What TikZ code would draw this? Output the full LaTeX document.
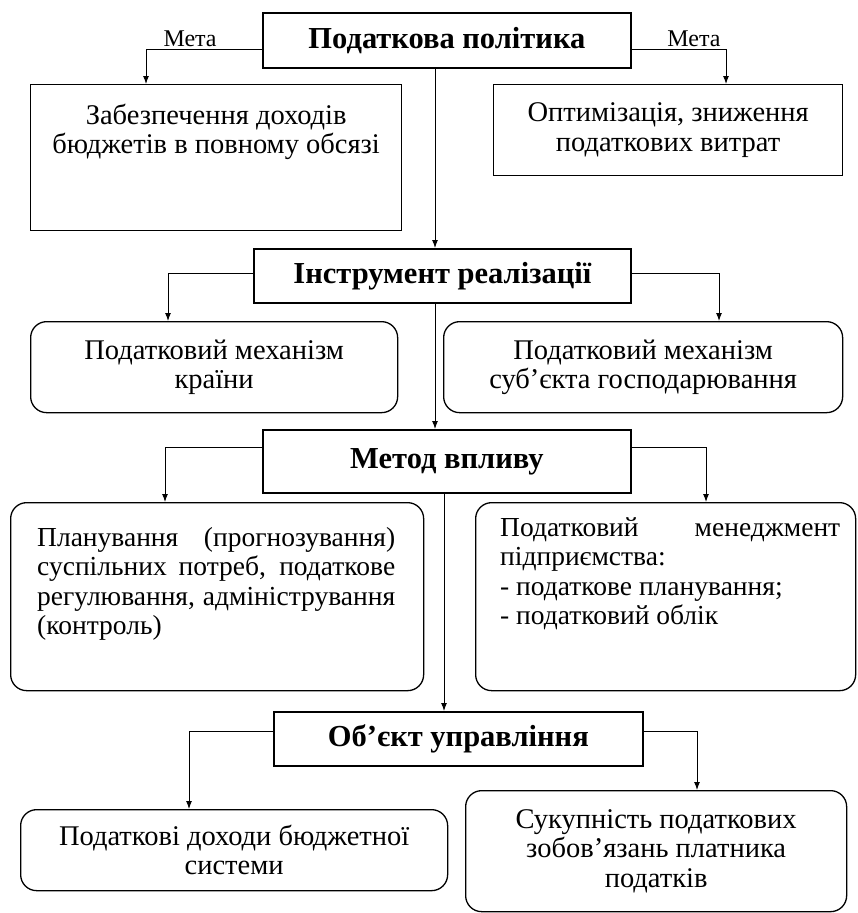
\documentclass[tikz,border=0pt]{standalone}
\usepackage{fontspec}
\setmainfont{Liberation Serif}
\usetikzlibrary{arrows.meta}

\begin{document}
\begin{tikzpicture}
[x=1pt,y=-1pt,
  boxdecorate/.style={shape=rectangle,draw,line width=1.3pt,anchor=north west,inner sep=0pt,align=center,font=\fontsize{28.5}{29.5}\selectfont},%
  headdecorate/.style={boxdecorate,line width=1.8pt,font=\fontsize{30.5}{32}\selectfont\bfseries},%
  rounddecorate/.style={boxdecorate,rounded corners=16pt},%
  textdecorate/.style={anchor=north west,inner sep=0pt,text width=#1,align=justify,font=\fontsize{27.5}{29.5}\selectfont},%
  arrowdecorate/.style={-{Latex[length=8pt,width=6pt]},line width=1pt},%
  labeldecorate/.style={above,inner sep=3pt,font=\fontsize{24}{26}\selectfont}]
\useasboundingbox (0,0) rectangle (857,913);
%% headings
\node[headdecorate,minimum width=368pt,minimum height=55pt] (policy) at (262,12) {Податкова політика};
\node[headdecorate,minimum width=377pt,minimum height=54pt] (tool) at (253,248) {Інструмент реалізації};
\node[headdecorate,minimum width=368pt,minimum height=63pt] (method) at (262,429) {Метод впливу};
\node[headdecorate,minimum width=369pt,minimum height=54pt] (object) at (273,711) {Об’єкт управління};
%% boxes
\node[boxdecorate,minimum width=371pt,minimum height=146pt] (goal1) at (30,84) {};
\node[anchor=north,inner sep=0pt,align=center,font=\fontsize{28.5}{28.5}\selectfont] (goal1text) at ([yshift=-20pt]goal1.north) {Забезпечення доходів\\бюджетів в повному обсязі};
\node[boxdecorate,minimum width=349pt,minimum height=91pt] (goal2) at (493,84) {Оптимізація, зниження\\податкових витрат};
\node[rounddecorate,minimum width=367pt,minimum height=91pt] (mech1) at (30,321) {Податковий механізм\\країни};
\node[rounddecorate,minimum width=399pt,minimum height=91pt] (mech2) at (443,321) {Податковий механізм\\суб’єкта господарювання};
\node[rounddecorate,minimum width=413pt,minimum height=188pt] (meth1) at (10,502) {};
\node[textdecorate=358pt] (meth1text) at ([xshift=27pt,yshift=-25pt]meth1.north west) {Планування (прогнозування)\linebreak суспільних потреб, податкове\linebreak регулювання, адміністрування (контроль)};
\node[rounddecorate,minimum width=380pt,minimum height=188pt] (meth2) at (475,502) {};
\node[textdecorate=340pt] (meth2text) at ([xshift=25pt,yshift=-15pt]meth2.north west) {Податковий менеджмент\linebreak підприємства:\\- податкове планування;\\- податковий облік};
\node[rounddecorate,minimum width=427pt,minimum height=81pt] (obj1) at (20,809) {Податкові доходи бюджетної\\системи};
\node[rounddecorate,minimum width=381pt,minimum height=121pt] (obj2) at (465,790) {Сукупність податкових\\зобов’язань платника\\податків};
%% drop points
\foreach \dropname/\x in {spineA/435, spineB/444, dropA/146, dropB/726, dropC/168,
  dropD/719, dropE/165, dropF/706, dropG/189, dropH/697}
  \coordinate (\dropname) at (\x,0);
%% connectors
\draw[arrowdecorate] (policy.south -| spineA) -- (tool.north -| spineA);
\draw[arrowdecorate] (tool.south -| spineA) -- (method.north -| spineA);
\draw[arrowdecorate] (method.south -| spineB) -- (object.north -| spineB);
\draw[arrowdecorate] ([yshift=-9.5pt]policy.west) -| node[labeldecorate,pos=0.31] {Мета} (goal1.north -| dropA);
\draw[arrowdecorate] ([yshift=-9.5pt]policy.east) -| node[labeldecorate,pos=0.33] {Мета} (goal2.north -| dropB);
\foreach \startnode/\side/\shift/\endnode/\drop in {
  tool/west/2/mech1/dropC, tool/east/2/mech2/dropD,
  method/west/13.5/meth1/dropE, method/east/13.5/meth2/dropF,
  object/west/7/obj1/dropG, object/east/7/obj2/dropH}
  \draw[arrowdecorate] ([yshift=\shift pt]\startnode.\side) -| (\endnode.north -| \drop);
\end{tikzpicture}
\end{document}
